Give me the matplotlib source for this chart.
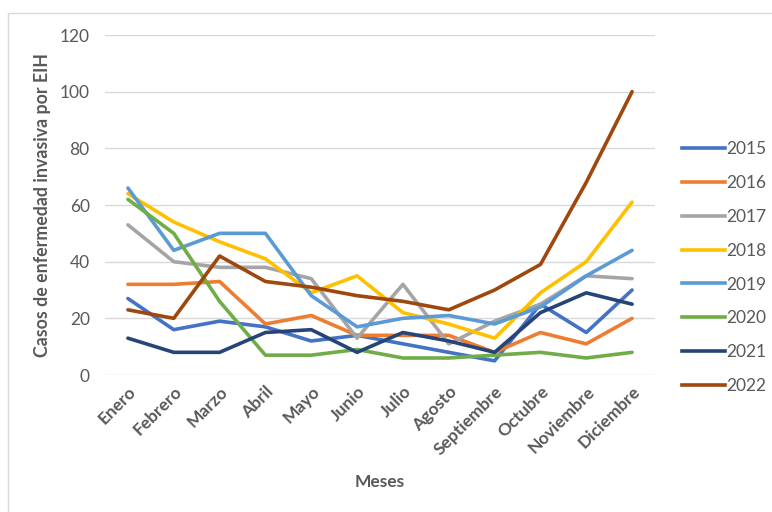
import matplotlib.pyplot as plt
from matplotlib.patches import Rectangle
from matplotlib.lines import Line2D

meses = ['Enero', 'Febrero', 'Marzo', 'Abril', 'Mayo', 'Junio', 'Julio',
         'Agosto', 'Septiembre', 'Octubre', 'Noviembre', 'Diciembre']

casos_2015 = [27, 16, 19, 17, 12, 14, 11, 8, 5, 25, 15, 30]
casos_2016 = [32, 32, 33, 18, 21, 14, 14, 14, 8, 15, 11, 20]
casos_2017 = [53, 40, 38, 38, 34, 13, 32, 11, 19, 25, 35, 34]
casos_2018 = [64, 54, 47, 41, 29, 35, 22, 18, 13, 29, 40, 61]
casos_2019 = [66, 44, 50, 50, 28, 17, 20, 21, 18, 24, 35, 44]
casos_2020 = [62, 50, 26, 7, 7, 9, 6, 6, 7, 8, 6, 8]
casos_2021 = [13, 8, 8, 15, 16, 8, 15, 12, 8, 22, 29, 25]
casos_2022 = [23, 20, 42, 33, 31, 28, 26, 23, 30, 39, 68, 100]

anios = ['2015', '2016', '2017', '2018', '2019', '2020', '2021', '2022']
series = [casos_2015, casos_2016, casos_2017, casos_2018,
          casos_2019, casos_2020, casos_2021, casos_2022]
colores = ['#4472C4', '#ED7D31', '#A5A5A5', '#FFC000',
           '#5B9BD5', '#70AD47', '#264478', '#9E480E']

plt.rcParams['font.family'] = ['Lato', 'DejaVu Sans']
gris = '#595959'
fs = 12.5

fig = plt.figure(figsize=(7.72, 5.12), dpi=100)
ax = fig.add_axes([105 / 772, 1 - 375 / 512, 550 / 772, 340 / 512])

# marco del grafico
fig.patches.append(Rectangle((8 / 772, -0.1), 1.2, 1 - 13 / 512 + 0.1,
                             transform=fig.transFigure, fill=False,
                             edgecolor='#D9D9D9', linewidth=1))

x = list(range(len(meses)))
for anio, valores, color in zip(anios, series, colores):
    ax.plot(x, valores, color=color, linewidth=2.6, label=anio,
            solid_capstyle='round', solid_joinstyle='round')

ax.set_xlim(-0.5, 11.5)
ax.set_ylim(0, 120)
ax.set_yticks(range(0, 121, 20))
ax.grid(axis='y', color='#D9D9D9', linewidth=1)
ax.set_axisbelow(True)
for s in ax.spines.values():
    s.set_visible(False)
ax.tick_params(length=0, colors=gris, labelsize=fs)
ax.tick_params(axis='y', pad=11)
ax.set_xticks(x)
ax.set_xticklabels(meses, rotation=45, ha='right', rotation_mode='anchor',
                   fontweight='bold')
ax.tick_params(axis='x', pad=6)

ax.set_ylabel('Casos de enfermedad invasiva por EIH', fontsize=12.8,
              fontweight='bold', color=gris, labelpad=6)
ax.set_xlabel('Meses', fontsize=fs, fontweight='bold', color=gris,
              labelpad=12)

handles = [Line2D([], [], color=c, linewidth=2.6) for c in colores]
leg = fig.legend(handles, anios, loc='upper left',
                 bbox_to_anchor=(682 / 772, 1 - 141 / 512), frameon=False,
                 borderpad=0, borderaxespad=0,
                 fontsize=fs, handlelength=2.45, handletextpad=0.1,
                 labelspacing=1.03, labelcolor=gris)

fig.savefig('out.png', dpi=100)
